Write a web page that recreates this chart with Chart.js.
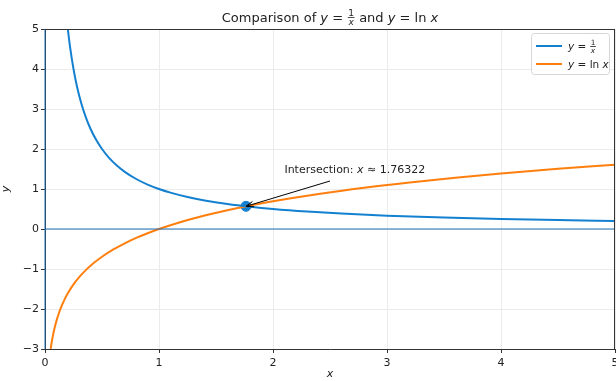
<!DOCTYPE html>
<html>
<head>
<meta charset="utf-8">
<script src="https://cdn.jsdelivr.net/npm/chart.js@4.4.1/dist/chart.umd.min.js"></script>
<style>
    html, body { margin: 0; padding: 0; background: #fff; overflow: hidden; }
    #wrap { position: absolute; left: 0; top: 0; width: 640px; height: 381px; }
</style>
</head>
<body>
<div id="wrap"><canvas id="chart" width="640" height="381"></canvas></div>
<script>
// Values
const recipX = [0.2, 0.22, 0.25, 0.28, 0.32, 0.36, 0.4, 0.45, 0.5, 0.56, 0.63, 0.7, 0.8, 0.9, 1.0, 1.1, 1.25, 1.4, 1.6, 1.8, 2.0, 2.3, 2.6, 3.0, 3.5, 4.0, 4.5, 5.0];
const recipY = [5, 4.545, 4, 3.571, 3.125, 2.778, 2.5, 2.222, 2, 1.786, 1.587, 1.429, 1.25, 1.111, 1, 0.909, 0.8, 0.714, 0.625, 0.556, 0.5, 0.435, 0.385, 0.333, 0.286, 0.25, 0.222, 0.2];

const logX = [0.05, 0.055, 0.06, 0.07, 0.08, 0.09, 0.1, 0.12, 0.14, 0.17, 0.2, 0.25, 0.3, 0.36, 0.43, 0.5, 0.6, 0.7, 0.8, 0.9, 1.0, 1.2, 1.4, 1.6, 1.8, 2.0, 2.4, 2.8, 3.2, 3.6, 4.0, 4.5, 5.0];
const logY = [-2.996, -2.9, -2.813, -2.659, -2.526, -2.408, -2.303, -2.12, -1.966, -1.772, -1.609, -1.386, -1.204, -1.022, -0.844, -0.693, -0.511, -0.357, -0.223, -0.105, 0, 0.182, 0.336, 0.47, 0.588, 0.693, 0.875, 1.03, 1.163, 1.281, 1.386, 1.504, 1.609];

const intersection = [1.76322, 0.5671];
const annotText = [2.1, 1.5];     // text anchor (data units)
const annotTail = [2.5, 1.2];     // arrow start (data units)

const xTicks = [0, 1, 2, 3, 4, 5];
const yTicks = [-3, -2, -1, 0, 1, 2, 3, 4, 5];

const colors = {
    blue: '#1380d0',
    orange: '#ff7f0e',
    hline: '#1f6fb4',
    grid: '#ebebeb',
    axis: '#333333',
    text: '#222222'
};

const toPoints = (xs, ys) => xs.map((x, i) => ({ x: x, y: ys[i] }));
const fmt = v => (v < 0 ? '\u2212' + Math.abs(v) : String(v));

const FONT = '"DejaVu Sans", sans-serif';

// Helper: draw a stacked 1/x fraction, returns width
function drawFrac(ctx, x, yMid, size) {
    ctx.save();
    ctx.font = (size * 0.7) + 'px ' + FONT;
    const w = Math.max(ctx.measureText('1').width, ctx.measureText('x').width) + 2;
    ctx.textAlign = 'center';
    ctx.textBaseline = 'alphabetic';
    ctx.fillText('1', x + w / 2, yMid - 1.5);
    ctx.font = 'italic ' + (size * 0.7) + 'px ' + FONT;
    ctx.textBaseline = 'top';
    ctx.fillText('x', x + w / 2, yMid + 0.5);
    ctx.fillRect(x + 0.5, yMid - 0.5, w - 1, 0.8);
    ctx.restore();
    return w;
}

// Helper: draw runs of text pieces; each piece {t, italic} or {frac:true}
function drawRuns(ctx, runs, x, y, size, measureOnly) {
    let cx = x;
    runs.forEach(r => {
        if (r.frac) {
            if (!measureOnly) drawFrac(ctx, cx, y - size * 0.33, size);
            ctx.font = (size * 0.7) + 'px ' + FONT;
            cx += Math.max(ctx.measureText('1').width, ctx.measureText('x').width) + 2;
        } else {
            ctx.font = (r.italic ? 'italic ' : '') + size + 'px ' + FONT;
            if (!measureOnly) ctx.fillText(r.t, cx, y);
            cx += ctx.measureText(r.t).width;
        }
    });
    return cx - x;
}

const decorPlugin = {
    id: 'decor',
    afterDatasetsDraw(chart) {
        const ctx = chart.ctx;
        const a = chart.chartArea;
        const xs = chart.scales.x, ys = chart.scales.y;
        ctx.save();

        // top and right spines
        ctx.strokeStyle = colors.axis;
        ctx.lineWidth = 1;
        ctx.beginPath();
        ctx.moveTo(a.left, a.top + 0.5);
        ctx.lineTo(a.right, a.top + 0.5);
        ctx.moveTo(a.right - 0.5, a.top);
        ctx.lineTo(a.right - 0.5, a.bottom);
        ctx.stroke();

        // title
        ctx.fillStyle = colors.text;
        ctx.textBaseline = 'alphabetic';
        const titleRuns = [
            { t: 'Comparison of ' }, { t: 'y', italic: true }, { t: ' = ' }, { frac: true },
            { t: ' and ' }, { t: 'y', italic: true }, { t: ' = ln ' }, { t: 'x', italic: true }
        ];
        const tw = drawRuns(ctx, titleRuns, 0, 0, 13, true);
        drawRuns(ctx, titleRuns, (a.left + 615) / 2 - tw / 2, 22, 13, false);

        // annotation
        const tx = xs.getPixelForValue(annotText[0]);
        const ty = ys.getPixelForValue(annotText[1]);
        ctx.fillStyle = colors.text;
        drawRuns(ctx, [{ t: 'Intersection: ' }, { t: 'x', italic: true }, { t: ' \u2248 1.76322' }], tx, ty + 4, 11, false);

        const ax = xs.getPixelForValue(annotTail[0]);
        const ay = ys.getPixelForValue(annotTail[1]);
        const hx = xs.getPixelForValue(intersection[0]);
        const hy = ys.getPixelForValue(intersection[1]);
        ctx.strokeStyle = '#000';
        ctx.lineWidth = 1;
        ctx.beginPath();
        ctx.moveTo(ax, ay);
        ctx.lineTo(hx, hy);
        ctx.stroke();
        const ang = Math.atan2(hy - ay, hx - ax);
        ctx.beginPath();
        ctx.moveTo(hx, hy);
        ctx.lineTo(hx - 8 * Math.cos(ang - 0.35), hy - 8 * Math.sin(ang - 0.35));
        ctx.moveTo(hx, hy);
        ctx.lineTo(hx - 8 * Math.cos(ang + 0.35), hy - 8 * Math.sin(ang + 0.35));
        ctx.stroke();

        // legend
        const lx = 531, ly = 33, lw = 78, lh = 41;
        ctx.fillStyle = 'rgba(255,255,255,0.85)';
        ctx.strokeStyle = '#d6d6d6';
        ctx.beginPath();
        ctx.roundRect(lx + 0.5, ly + 0.5, lw, lh, 3);
        ctx.fill();
        ctx.stroke();
        const entries = [
            { c: colors.blue, runs: [{ t: 'y', italic: true }, { t: ' = ' }, { frac: true }], y: ly + 13 },
            { c: colors.orange, runs: [{ t: 'y', italic: true }, { t: ' = ln ' }, { t: 'x', italic: true }], y: ly + 31 }
        ];
        entries.forEach(e => {
            ctx.strokeStyle = e.c;
            ctx.lineWidth = 2;
            ctx.beginPath();
            ctx.moveTo(lx + 5, e.y);
            ctx.lineTo(lx + 31, e.y);
            ctx.stroke();
            ctx.fillStyle = colors.text;
            drawRuns(ctx, e.runs, lx + 37, e.y + 4, 10.5, false);
        });

        ctx.restore();
    }
};

new Chart(document.getElementById('chart'), {
    type: 'scatter',
    data: {
        datasets: [
            {
                label: 'hline',
                data: toPoints([0, 5], [0, 0]),
                showLine: true, borderColor: colors.hline, borderWidth: 1, pointRadius: 0
            },
            {
                label: 'vline',
                data: toPoints([0, 0], [-3, 5]),
                showLine: true, borderColor: colors.hline, borderWidth: 1, pointRadius: 0
            },
            {
                label: 'y = 1/x',
                data: toPoints(recipX, recipY),
                showLine: true, borderColor: colors.blue, borderWidth: 2,
                pointRadius: 0, cubicInterpolationMode: 'monotone'
            },
            {
                label: 'y = ln x',
                data: toPoints(logX, logY),
                showLine: true, borderColor: colors.orange, borderWidth: 2,
                pointRadius: 0, cubicInterpolationMode: 'monotone'
            },
            {
                label: 'intersection',
                data: [{ x: intersection[0], y: intersection[1] }],
                pointRadius: 5, pointBackgroundColor: colors.blue, pointBorderColor: colors.blue
            }
        ]
    },
    options: {
        responsive: false,
        animation: false,
        clip: false,
        layout: { padding: { left: 0, top: 29, right: 25, bottom: 0 } },
        plugins: {
            legend: { display: false },
            tooltip: { enabled: false },
            title: { display: false }
        },
        scales: {
            x: {
                type: 'linear', min: 0, max: 5,
                afterBuildTicks: s => { s.ticks = xTicks.map(v => ({ value: v })); },
                afterFit: s => { s.height = 32; },
                ticks: { color: colors.text, font: { family: FONT, size: 11 }, padding: 4, maxRotation: 0, callback: fmt },
                grid: { color: colors.grid, tickColor: colors.axis, tickLength: 4 },
                border: { color: colors.axis, width: 1 },
                title: { display: true, text: 'x', color: colors.text, padding: { top: 3, bottom: 0 }, font: { family: FONT, size: 11, style: 'italic' } }
            },
            y: {
                type: 'linear', min: -3, max: 5,
                afterBuildTicks: s => { s.ticks = yTicks.map(v => ({ value: v })); },
                afterFit: s => { s.width = 45; },
                ticks: { color: colors.text, font: { family: FONT, size: 11 }, padding: 2, callback: fmt },
                grid: { color: colors.grid, tickColor: colors.axis, tickLength: 4 },
                border: { color: colors.axis, width: 1 },
                title: { display: true, text: 'y', color: colors.text, padding: 0, font: { family: FONT, size: 11, style: 'italic' } }
            }
        }
    },
    plugins: [decorPlugin]
});
</script>
</body>
</html>
